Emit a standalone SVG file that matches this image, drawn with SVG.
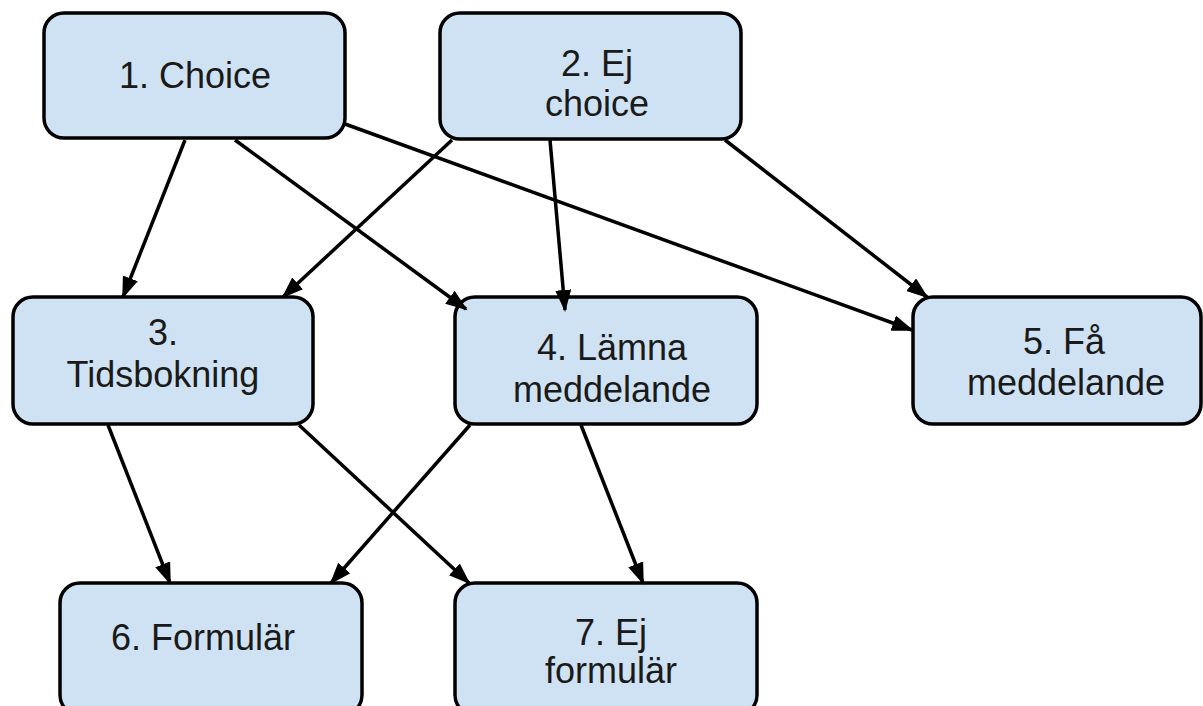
<svg xmlns="http://www.w3.org/2000/svg" width="1203" height="706" viewBox="0 0 1203 706">
<defs>
<style>
.node rect{fill:#cfe2f3;stroke:#000;stroke-width:3.5}
.node text{font-family:"Liberation Sans",Arial,sans-serif;font-size:36px;fill:#1a1a1a;text-anchor:middle}
.edge{stroke:#000;stroke-width:3.5;fill:none;marker-end:url(#ah)}
</style>
<marker id="ah" markerUnits="userSpaceOnUse" markerWidth="24" markerHeight="18" refX="20" refY="8" orient="auto">
<path d="M0,0 L22,8 L0,16 z" fill="#000"/>
</marker>
</defs>
<rect width="1203" height="706" fill="#fff"/>
<g id="n1" class="node"><rect x="44" y="13" width="301" height="125" rx="20"/><text x="195" y="88">1. Choice</text></g>
<g id="n2" class="node"><rect x="440" y="13" width="301" height="126" rx="20"/><text x="597" y="76">2. Ej</text><text x="597" y="116">choice</text></g>
<g id="n3" class="node"><rect x="13" y="297" width="300" height="127" rx="20"/><text x="163" y="345">3.</text><text x="163" y="387">Tidsbokning</text></g>
<g id="n4" class="node"><rect x="455" y="297" width="302" height="127" rx="20"/><text x="612" y="360">4. Lämna</text><text x="612" y="402">meddelande</text></g>
<g id="n5" class="node"><rect x="913" y="297" width="288" height="127" rx="20"/><text x="1064" y="354">5. Få</text><text x="1066" y="395">meddelande</text></g>
<g id="n6" class="node"><rect x="60" y="583" width="302" height="132" rx="20"/><text x="203" y="650">6. Formulär</text></g>
<g id="n7" class="node"><rect x="455" y="583" width="302" height="132" rx="20"/><text x="611" y="645">7. Ej</text><text x="611" y="683">formulär</text></g>
<g id="edges">
<line class="edge" x1="185" y1="140" x2="123" y2="297"/>
<line class="edge" x1="235" y1="140" x2="466" y2="309"/>
<line class="edge" x1="345" y1="124" x2="912" y2="330"/>
<line class="edge" x1="452" y1="140" x2="283" y2="297"/>
<line class="edge" x1="550" y1="140" x2="565" y2="310"/>
<line class="edge" x1="725" y1="140" x2="927" y2="297"/>
<line class="edge" x1="108" y1="425" x2="170" y2="583"/>
<line class="edge" x1="299" y1="425" x2="469" y2="583"/>
<line class="edge" x1="470" y1="425" x2="331" y2="583"/>
<line class="edge" x1="581" y1="425" x2="643" y2="583"/>
</g>
</svg>
